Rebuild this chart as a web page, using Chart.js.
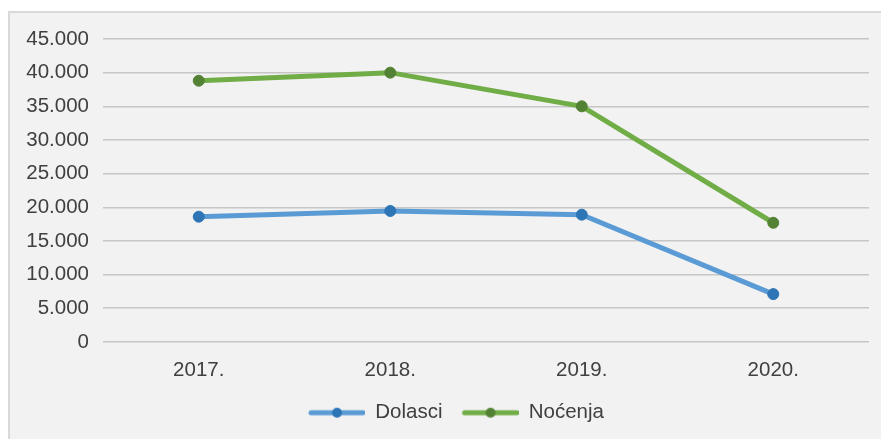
<!DOCTYPE html>
<html>
<head>
<meta charset="utf-8">
<script src="https://cdn.jsdelivr.net/npm/chart.js@4/dist/chart.umd.min.js"></script>
<style>
  html, body { margin: 0; padding: 0; background: #fff; }
  #wrap { width: 881px; height: 439px; position: relative; }
</style>
</head>
<body>
<div id="wrap"><canvas id="myChart" width="881" height="439"></canvas></div>
<script>
const years = ['2017.', '2018.', '2019.', '2020.'];
const dolasci = [18600, 19450, 18900, 7100];
const nocenja = [38800, 40000, 35000, 17700];
const yTicks = [0, 5000, 10000, 15000, 20000, 25000, 30000, 35000, 40000, 45000];

const textColor = '#404040';
const fontFamily = '"Liberation Sans", Arial, sans-serif';
const fontSize = 20.5;

// thousands with a dot, e.g. 45.000
function fmt(v) {
  return String(v).replace(/\B(?=(\d{3})+(?!\d))/g, '.');
}

// line-with-dot swatch for the legend; the blank left part spaces the items apart
function legendSwatch(lineColor, dotColor) {
  const c = document.createElement('canvas');
  c.width = 72;
  c.height = 14;
  const g = c.getContext('2d');
  g.strokeStyle = lineColor;
  g.lineWidth = 5;
  g.lineCap = 'round';
  g.beginPath();
  g.moveTo(18, 7);
  g.lineTo(70, 7);
  g.stroke();
  g.fillStyle = dotColor;
  g.beginPath();
  g.arc(44, 7, 5, 0, Math.PI * 2);
  g.fill();
  return c;
}

const swatches = [
  legendSwatch('#5b9bd5', '#2e75b6'),
  legendSwatch('#70ad47', '#548235')
];

// grey panel with a thin border behind everything
const panel = {
  id: 'panel',
  beforeDraw(chart) {
    const ctx = chart.ctx;
    ctx.save();
    ctx.fillStyle = '#ffffff';
    ctx.fillRect(0, 0, chart.width, chart.height);
    ctx.fillStyle = '#f2f2f2';
    ctx.fillRect(8, 11, chart.width - 8, chart.height - 11);
    ctx.fillStyle = '#d9d9d9';
    ctx.fillRect(8, 11, 2, chart.height - 11);
    ctx.fillRect(8, 11, chart.width - 8, 2);
    ctx.restore();
  }
};

// nudge the legend a bit to the right of the canvas centre
const legendShift = {
  id: 'legendShift',
  afterLayout(chart) {
    chart.legend.left += 14;
    chart.legend.right += 14;
  }
};

const ctx = document.getElementById('myChart').getContext('2d');
const myChart = new Chart(ctx, {
  type: 'line',
  data: {
    labels: years,
    datasets: [{
      label: 'Dolasci',
      data: dolasci,
      borderColor: '#5b9bd5',
      backgroundColor: '#2e75b6',
      pointBackgroundColor: '#2e75b6',
      pointBorderColor: '#2e75b6',
      borderWidth: 5,
      pointRadius: 5.5,
      pointBorderWidth: 1,
      tension: 0
    }, {
      label: 'Noćenja',
      data: nocenja,
      borderColor: '#70ad47',
      backgroundColor: '#548235',
      pointBackgroundColor: '#548235',
      pointBorderColor: '#548235',
      borderWidth: 5,
      pointRadius: 5.5,
      pointBorderWidth: 1,
      tension: 0
    }]
  },
  options: {
    responsive: false,
    animation: false,
    layout: {
      padding: { left: 0, right: 12, top: 39, bottom: 6 }
    },
    plugins: {
      tooltip: { enabled: false },
      legend: {
        position: 'bottom',
        labels: {
          usePointStyle: true,
          pointStyleWidth: 72,
          boxHeight: 14,
          padding: 4,
          color: textColor,
          font: { family: fontFamily, size: fontSize },
          generateLabels(chart) {
            return chart.data.datasets.map((ds, i) => ({
              text: ds.label,
              pointStyle: swatches[i],
              fillStyle: ds.borderColor,
              strokeStyle: ds.borderColor,
              lineWidth: 0,
              fontColor: textColor,
              datasetIndex: i,
              hidden: false
            }));
          }
        }
      }
    },
    scales: {
      x: {
        offset: true,
        grid: { display: false, drawTicks: false },
        border: { display: false },
        ticks: {
          color: textColor,
          padding: 16,
          font: { family: fontFamily, size: fontSize }
        }
      },
      y: {
        min: 0,
        max: 45000,
        afterFit(axis) { axis.width = 103; },
        afterBuildTicks(axis) { axis.ticks = yTicks.map(v => ({ value: v })); },
        grid: { color: '#c6c6c6', lineWidth: 1.5, drawTicks: false },
        border: { display: false },
        ticks: {
          color: textColor,
          padding: 14,
          font: { family: fontFamily, size: fontSize },
          callback: v => fmt(v)
        }
      }
    }
  },
  plugins: [panel, legendShift]
});
</script>
</body>
</html>
